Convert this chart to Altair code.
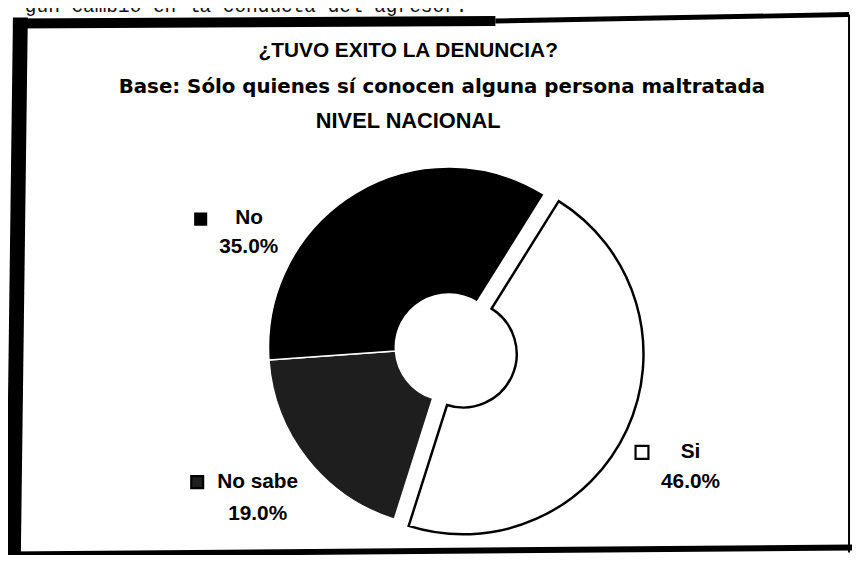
import math
import altair as alt
import pandas as pd

# ---------------- data ----------------
categories = ["Si", "No sabe", "No"]
values = [46.0, 19.0, 35.0]
slice_order = [0, 1, 2]
slice_colors = ["#ffffff", "#1e1e1e", "#000000"]

title_lines = [
    "¿TUVO EXITO LA DENUNCIA?",
    "Base: Sólo quienes sí conocen alguna persona maltratada",
    "NIVEL NACIONAL",
]
header_text = "gún cambio en la conducta del agresor."

# ---------------- layout (pixels, chart coordinates) ----------------
W, H = 852, 547
CX, CY = 445, 340
R_OUT, R_IN = 182, 54
START_DEG = 32
EXPLODE = 16
FONT = "Liberation Sans"

# explode offset for the "Si" slice, along its mid angle
si_mid_frac = (values[0] / 2) / sum(values)
mid_rad = math.radians(START_DEG) + 2 * math.pi * si_mid_frac
DX = EXPLODE * math.sin(mid_rad)
DY = -EXPLODE * math.cos(mid_rad)

start_rad = math.radians(START_DEG)
theta_scale = alt.Scale(domain=[0, 100], range=[start_rad, start_rad + 2 * math.pi])
color_scale = alt.Scale(domain=categories, range=slice_colors)

df = pd.DataFrame({"category": categories, "value": values, "order": slice_order})

base = (
    alt.Chart(df)
    .transform_window(cum="sum(value)", sort=[alt.SortField("order")], frame=[None, 0])
    .transform_calculate(start="datum.cum - datum.value")
)

dark = (
    base.transform_filter("datum.category != 'Si'")
    .mark_arc(innerRadius=R_IN, outerRadius=R_OUT, stroke="white", strokeWidth=1.5)
    .encode(
        theta=alt.Theta("start:Q", scale=theta_scale),
        theta2="cum:Q",
        fill=alt.Fill("category:N", scale=color_scale, legend=None),
        x=alt.value(CX),
        y=alt.value(CY),
    )
)

light = (
    base.transform_filter("datum.category == 'Si'")
    .mark_arc(innerRadius=R_IN, outerRadius=R_OUT, stroke="black", strokeWidth=2.5)
    .encode(
        theta=alt.Theta("start:Q", scale=theta_scale),
        theta2="cum:Q",
        fill=alt.Fill("category:N", scale=color_scale, legend=None),
        x=alt.value(CX + DX),
        y=alt.value(CY + DY),
    )
)

# ---------------- labels ----------------
name_pos = {"Si": (689, 452), "No sabe": (252, 482), "No": (243.5, 215)}
pct_pos = {"Si": (689, 482), "No sabe": (252, 514), "No": (243, 245)}
sq_pos = {"Si": (640, 446, 169), "No sabe": (191, 476, 144), "No": (194.5, 210.5, 121)}

lab = pd.DataFrame({
    "category": categories,
    "pct": [f"{v:.1f}%" for v in values],
    "nx": [name_pos[c][0] for c in categories],
    "ny": [name_pos[c][1] for c in categories],
    "px": [pct_pos[c][0] for c in categories],
    "py": [pct_pos[c][1] for c in categories],
    "sx": [sq_pos[c][0] for c in categories],
    "sy": [sq_pos[c][1] for c in categories],
    "ss": [sq_pos[c][2] for c in categories],
})

name_text = alt.Chart(lab).mark_text(
    font=FONT, fontSize=21, fontWeight="bold", align="center", baseline="alphabetic", color="black"
).encode(
    x=alt.X("nx:Q", scale=None), y=alt.Y("ny:Q", scale=None), text="category:N"
)
pct_text = alt.Chart(lab).mark_text(
    font=FONT, fontSize=21, fontWeight="bold", align="center", baseline="alphabetic", color="black"
).encode(
    x=alt.X("px:Q", scale=None), y=alt.Y("py:Q", scale=None), text="pct:N"
)
squares = alt.Chart(lab).mark_square(stroke="black", strokeWidth=2.2, opacity=1).encode(
    x=alt.X("sx:Q", scale=None),
    y=alt.Y("sy:Q", scale=None),
    size=alt.Size("ss:Q", scale=None, legend=None),
    fill=alt.Fill("category:N", scale=color_scale, legend=None),
)

# ---------------- titles ----------------
title_df = pd.DataFrame({"line": title_lines, "idx": [0, 1, 2]})
title_style = [
    # (font, size, center x, baseline y)
    (FONT, 21, 404, 47),
    ("DejaVu Sans", 20, 438, 83.5),
    (FONT, 22, 404, 119),
]
titles = []
for i, (fnt, fs, tx, ty) in enumerate(title_style):
    titles.append(
        alt.Chart(title_df).transform_filter(f"datum.idx == {i}").mark_text(
            font=fnt, fontSize=fs, fontWeight="bold", align="center", baseline="alphabetic", color="black"
        ).encode(x=alt.value(tx), y=alt.value(ty), text="line:N")
    )

one = pd.DataFrame({"k": [0]})
header = alt.Chart(one).mark_text(
    font="Liberation Mono", fontSize=19.6, align="left", baseline="alphabetic", color="#111"
).encode(x=alt.value(17), y=alt.value(1), text=alt.value(header_text))

# ---------------- frame ----------------
def rule(x1, y1, x2, y2, w):
    return alt.Chart(one).mark_rule(color="black", strokeWidth=w, strokeCap="butt").encode(
        x=alt.value(x1), y=alt.value(y1), x2=alt.value(x2), y2=alt.value(y2)
    )

frame = [
    rule(5, 13, 492, 10.5, 10),
    rule(492, 10.5, 849, 4, 5),
    rule(12.5, 7, 5.5, 547, 15),
    rule(0, 549, 852, 542, 6),
    rule(849, 4, 849, 547, 2),
]

chart = alt.layer(
    dark, light, squares, name_text, pct_text, *titles, header, *frame
).properties(
    width=W, height=H, autosize=alt.AutoSizeParams(type="none"), padding=0, background="white"
).configure_view(stroke=None)

chart.save("out.html", embed_options={"renderer": "svg", "actions": False})
